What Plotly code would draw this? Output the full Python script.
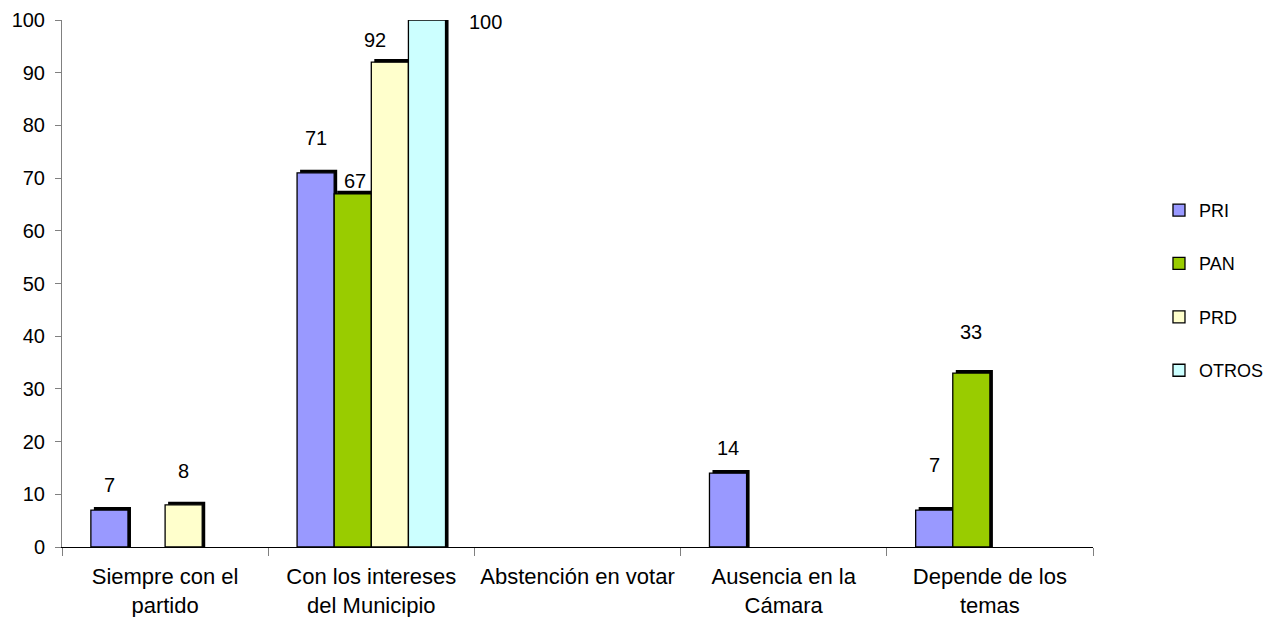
import plotly.graph_objects as go

categories = ["Siempre con el<br>partido", "Con los intereses<br>del Municipio",
              "Abstención en votar", "Ausencia en la<br>Cámara", "Depende de los<br>temas"]
series_names = ["PRI", "PAN", "PRD", "OTROS"]
pri = [7, 71, 0, 14, 7]
pan = [0, 67, 0, 0, 33]
prd = [8, 92, 0, 0, 0]
otros = [0, 100, 0, 0, 0]
y_ticks = [0, 10, 20, 30, 40, 50, 60, 70, 80, 90, 100]

series_values = [pri, pan, prd, otros]
colors = ["#9999FF", "#99CC00", "#FFFFCC", "#CCFFFF"]

# label nudges (pixels) to mimic the original placement: (series, category) -> (dx, dy)
label_nudge = {(0, 0): (0, 25), (2, 0): (0, 34), (0, 1): (0, 35), (1, 1): (2, 13),
               (2, 1): (-15, 22), (3, 1): (59, -2), (0, 3): (0, 25), (0, 4): (0, 45), (1, 4): (0, 41)}

W = 0.18           # bar width in category units
DX = 0.0146        # depth offset in x (category units)
DY = 0.6           # depth offset in y (value units)
font = "Liberation Sans, Arial, sans-serif"

fig = go.Figure()
n = len(series_names)
positions = []
for j in range(n):
    off = (j - (n - 1) / 2) * W
    positions.append([i + off for i in range(len(categories))])

# depth shadows
for j, vals in enumerate(series_values):
    xs = [x + DX for x, v in zip(positions[j], vals) if v]
    ys = [v + DY for v in vals if v]
    fig.add_trace(go.Bar(x=xs, y=ys, width=W, marker=dict(color="black", line=dict(width=0)),
                         showlegend=False, hoverinfo="skip", cliponaxis=False))

# main bars
for j, vals in enumerate(series_values):
    xs = [x for x, v in zip(positions[j], vals) if v]
    ys = [v for v in vals if v]
    fig.add_trace(go.Bar(x=xs, y=ys, width=W, name=series_names[j],
                         marker=dict(color=colors[j], line=dict(color="black", width=1.3)),
                         legendgroup=series_names[j], cliponaxis=False))

annotations = []
for j, vals in enumerate(series_values):
    for i, v in enumerate(vals):
        if not v:
            continue
        dx, dy = label_nudge.get((j, i), (0, 28))
        annotations.append(dict(x=positions[j][i], y=v, text=str(v), showarrow=False,
                                xshift=dx, yshift=dy, yanchor="middle", xanchor="center",
                                font=dict(family=font, size=20, color="black")))

fig.update_layout(
    barmode="overlay",
    width=1274, height=617, autosize=False,
    margin=dict(l=62, r=181, t=20, b=70, autoexpand=False),
    plot_bgcolor="white", paper_bgcolor="white",
    font=dict(family=font, size=20, color="black"),
    annotations=annotations,
    legend=dict(x=1.064, y=0.487, xanchor="left", yanchor="middle",
                font=dict(family=font, size=18), tracegroupgap=27,
                itemwidth=30, bgcolor="rgba(0,0,0,0)"),
    showlegend=True,
)
fig.update_xaxes(range=[-0.5, len(categories) - 0.5], automargin=False,
                 tickvals=list(range(len(categories))), ticktext=categories,
                 ticks="", showgrid=False, zeroline=False, ticklabelstandoff=10,
                 showline=True, linecolor="black", linewidth=1,
                 tickfont=dict(family=font, size=22),
                 minor=dict(tickvals=[k - 0.5 for k in range(len(categories) + 1)],
                            ticks="outside", ticklen=8, tickcolor="#808080", tickwidth=1))
fig.update_yaxes(range=[0, 100], tickvals=y_ticks, ticks="outside", ticklen=6,
                 tickcolor="#808080", showgrid=False, zeroline=False, automargin=False,
                 showline=True, linecolor="#808080", linewidth=1, ticklabelstandoff=6,
                 tickfont=dict(family=font, size=20))

post = "document.body.style.margin='0';document.body.style.overflow='hidden';"
fig.write_html("out.html", post_script=post, config={"displayModeBar": False})
